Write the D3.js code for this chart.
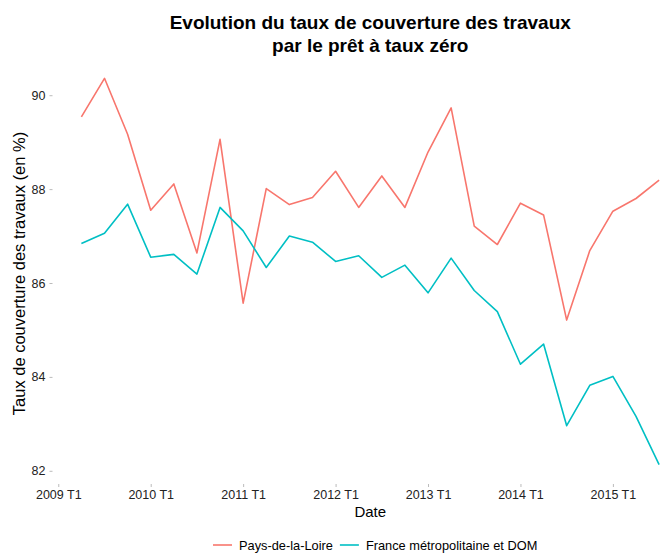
<!DOCTYPE html>
<html>
<head>
<meta charset="utf-8">
<script src="https://cdn.jsdelivr.net/npm/d3@7"></script>
<style>
  body { margin: 0; background: #fff; }
  svg { font-family: "Liberation Sans", Arial, sans-serif; display: block; }
</style>
</head>
<body>
<svg id="chart" width="664" height="557"></svg>
<script>
  // Quarters from 2009 T2 to 2015 T3 (index 0 = 2009 T1)
  const quarters = d3.range(1, 27);

  const paysDeLaLoire = [
    89.54, 90.36, 89.17, 87.55, 88.11, 86.64, 89.06, 85.57, 88.01, 87.67,
    87.82, 88.38, 87.61, 88.28, 87.61, 88.79, 89.73, 87.21, 86.82, 87.70,
    87.45, 85.21, 86.69, 87.53, 87.80, 88.19
  ];

  const franceMetro = [
    86.84, 87.06, 87.68, 86.55, 86.61, 86.19, 87.61, 87.11, 86.33, 87.00,
    86.87, 86.46, 86.58, 86.12, 86.38, 85.79, 86.53, 85.84, 85.39, 84.27,
    84.70, 82.96, 83.82, 84.01, 83.16, 82.13
  ];

  const xTickValues = [0, 4, 8, 12, 16, 20, 24];
  const xTickLabels = ['2009 T1', '2010 T1', '2011 T1', '2012 T1', '2013 T1', '2014 T1', '2015 T1'];
  const yTickValues = [82, 84, 86, 88, 90];

  const series = [
    { name: 'Pays-de-la-Loire', values: paysDeLaLoire, color: '#F8766D' },
    { name: 'France métropolitaine et DOM', values: franceMetro, color: '#00BFC4' }
  ];

  const svg = d3.select('#chart');

  // panel runs past the right edge of the picture, as in the reference
  const panel = { left: 52.5, right: 688, top: 59, bottom: 484 };

  const allVals = paysDeLaLoire.concat(franceMetro);
  const yMin = d3.min(allVals), yMax = d3.max(allVals);
  const yPad = (yMax - yMin) * 0.05;

  const x = d3.scaleLinear().domain([-0.25, 27.25]).range([panel.left, panel.right]);
  const y = d3.scaleLinear().domain([yMin - yPad, yMax + yPad]).range([panel.bottom, panel.top]);

  // y axis
  const yAxis = svg.append('g')
    .attr('transform', `translate(${panel.left},0)`)
    .call(d3.axisLeft(y).tickValues(yTickValues).tickSize(3).tickPadding(4));
  yAxis.select('.domain').remove();
  yAxis.selectAll('line').attr('stroke', '#bbb');
  yAxis.selectAll('text').attr('font-size', 12.5).attr('fill', '#222')
    .attr('font-family', '"Liberation Sans", Arial, sans-serif');

  // x axis
  const xAxis = svg.append('g')
    .attr('transform', `translate(0,${panel.bottom})`)
    .call(d3.axisBottom(x).tickValues(xTickValues)
      .tickFormat((d, i) => xTickLabels[i]).tickSize(3).tickPadding(3));
  xAxis.select('.domain').remove();
  xAxis.selectAll('line').attr('stroke', '#bbb');
  xAxis.selectAll('text').attr('font-size', 12.5).attr('fill', '#222')
    .attr('font-family', '"Liberation Sans", Arial, sans-serif');

  // lines
  const line = d3.line()
    .x((d, i) => x(quarters[i]))
    .y(d => y(d));

  svg.append('g').selectAll('path.serie')
    .data(series)
    .join('path')
    .attr('class', 'serie')
    .attr('fill', 'none')
    .attr('stroke', d => d.color)
    .attr('stroke-width', 1.6)
    .attr('stroke-linejoin', 'round')
    .attr('d', d => line(d.values));

  const midX = (panel.left + panel.right) / 2;

  // titles
  const title = svg.append('text')
    .attr('text-anchor', 'middle')
    .attr('font-size', 19)
    .attr('font-weight', 'bold')
    .attr('fill', '#000');
  title.append('tspan').attr('x', midX).attr('y', 29).text('Evolution du taux de couverture des travaux');
  title.append('tspan').attr('x', midX).attr('y', 52).text('par le prêt à taux zéro');

  svg.append('text')
    .attr('x', midX).attr('y', 517)
    .attr('text-anchor', 'middle')
    .attr('font-size', 15)
    .attr('fill', '#000')
    .text('Date');

  svg.append('text')
    .attr('transform', `translate(25,${(panel.top + panel.bottom) / 2 + 2}) rotate(-90)`)
    .attr('text-anchor', 'middle')
    .attr('font-size', 16.5)
    .attr('fill', '#000')
    .text('Taux de couverture des travaux (en %)');

  // legend
  const legend = svg.append('g').attr('transform', 'translate(213,545)');
  let offset = 0;
  series.forEach(s => {
    const g = legend.append('g').attr('transform', `translate(${offset},0)`);
    g.append('line')
      .attr('x1', 0).attr('x2', 19).attr('y1', 0).attr('y2', 0)
      .attr('stroke', s.color).attr('stroke-width', 1.6);
    const t = g.append('text')
      .attr('x', 26).attr('y', 4.5)
      .attr('font-size', 12.8)
      .attr('fill', '#000')
      .text(s.name);
    offset += 26 + t.node().getComputedTextLength() + 7;
  });
</script>
</body>
</html>
